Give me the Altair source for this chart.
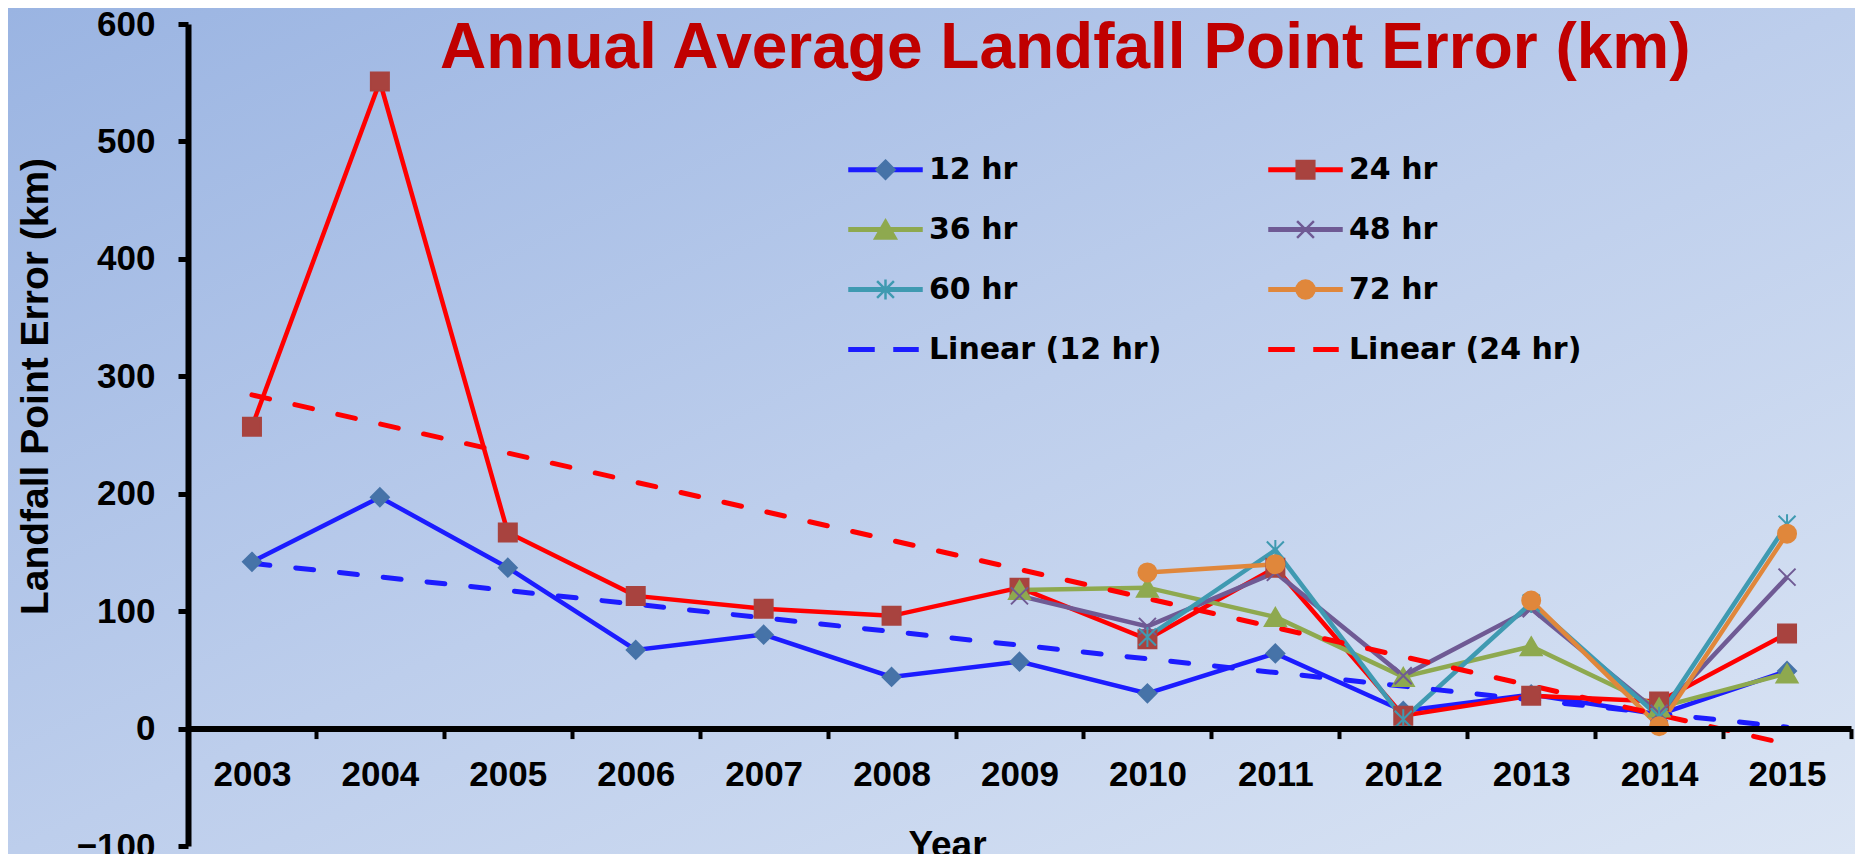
import altair as alt
import pandas as pd

# ---------------- data ----------------
years = [str(y) for y in range(2003, 2016)]
series = ["12 hr", "24 hr", "36 hr", "48 hr", "60 hr", "72 hr"]
h12 = [142, 197, 137, 67, 80, 44, 57, 30, 64, 15, 29, 12, 49]
h24 = [257, 551, 167, 113, 102, 96, 120, 76, 137, 11, 28, 23, 81]
h36 = [None, None, None, None, None, None, 118, 120, 95, 44, 70, 18, 47]
h48 = [None, None, None, None, None, None, 113, 87, 133, 45, 102, 13, 129]
h60 = [None, None, None, None, None, None, None, 78, 152, 8, 107, 10, 174]
h72 = [None, None, None, None, None, None, None, 133, 140, None, 109, 2, 166]
trend_names = ["Linear (12 hr)", "Linear (24 hr)"]
y_ticks = [-100, 0, 100, 200, 300, 400, 500, 600]

# ---------------- styling ----------------
line_colors = ["#1C1CFF", "#FF0000", "#8EA94F", "#6F5A94", "#3F9AB1", "#E0873B"]
marker_fill = ["#4673A8", "#A8433F", "#8EA94F", "transparent", "transparent", "#E0873B"]
marker_stroke = ["#4673A8", "#A8433F", "#8EA94F", "#6F5A94", "#3F9AB1", "#E0873B"]
trend_colors = ["#1C1CFF", "#FF0000"]

chart_paths = [
    "M0,-0.9L0.9,0L0,0.9L-0.9,0Z",
    "M-0.9,-0.9H0.9V0.9H-0.9Z",
    "M0,-0.9L1.05,0.9H-1.05Z",
    "M-0.85,-0.85L0.85,0.85M-0.85,0.85L0.85,-0.85",
    "M-0.85,-0.85L0.85,0.85M-0.85,0.85L0.85,-0.85M0,-1V1",
    "M-0.9,0A0.9,0.9 0 1,0 0.9,0A0.9,0.9 0 1,0 -0.9,0Z",
]
# legend symbols: invisible zero-length ends keep both legends' bounds identical
ends_solid = "M-1.8,0L-1.8,0M1.8,0L1.8,0"
ends_dash = "M-1.8,0L-1.8,0M1.6,0L1.6,0"
leg_marker_paths = [
    ends_solid + "M0,-0.45L0.45,0L0,0.45L-0.45,0Z",
    ends_solid + "M-0.44,-0.44H0.44V0.44H-0.44Z",
    ends_solid + "M0,-0.45L0.52,0.45H-0.52Z",
    ends_solid + "M-0.42,-0.42L0.42,0.42M-0.42,0.42L0.42,-0.42",
    ends_solid + "M-0.42,-0.42L0.42,0.42M-0.42,0.42L0.42,-0.42M0,-0.5V0.5",
    ends_solid + "M-0.45,0A0.45,0.45 0 1,0 0.45,0A0.45,0.45 0 1,0 -0.45,0Z",
    ends_dash,
    ends_dash,
]
solid = "M-1.8,-0.06H1.8V0.06H-1.8Z"
dashed = "M-1.8,-0.06H-0.6V0.06H-1.8ZM0.45,-0.06H1.6V0.06H0.45Z"
leg_line_paths = [solid] * 6 + [dashed] * 2
leg_line_colors = line_colors + trend_colors
leg_marker_fill = marker_fill + ["transparent", "transparent"]
leg_marker_stroke = marker_stroke + ["transparent", "transparent"]

# ---------------- tables ----------------
rows = []
for name, vals in zip(series, [h12, h24, h36, h48, h60, h72]):
    idx = [i for i, v in enumerate(vals) if v is not None]
    for i in range(idx[0], idx[-1] + 1):
        rows.append({"series": name, "year": years[i], "yr": int(years[i]), "value": vals[i]})
df = pd.DataFrame(rows)

legend_names = series + trend_names
leg_df = pd.DataFrame({"ll": legend_names, "lm": legend_names,
                       "year": [years[0]] * len(legend_names), "value": [0] * len(legend_names)})

W, H = 1663, 822
FONT = "Liberation Sans"

xscale = alt.Scale(type="band", domain=years, paddingInner=0, paddingOuter=0)
yscale = alt.Scale(domain=[-100, 600], nice=False, zero=False)

xaxis = alt.Axis(title="Year", offset=-H / 7.0, domainWidth=6, domainColor="black",
                 tickBand="extent", tickSize=10, tickWidth=4, tickColor="black",
                 labelFont=FONT, labelFontSize=35, labelFontWeight="bold", labelColor="black",
                 labelPadding=19, labelAngle=0, grid=False, zindex=2,
                 titleFont=FONT, titleFontSize=37, titleFontWeight="bold", titleColor="black",
                 titleX=759, titleY=128, titleBaseline="alphabetic")
yaxis = alt.Axis(title="Landfall Point Error (km)", values=y_ticks, domainWidth=6, domainColor="black",
                 tickSize=10, tickWidth=5, tickColor="black", grid=False, zindex=2,
                 labelFont=FONT, labelFontSize=35, labelFontWeight="bold", labelColor="black",
                 labelPadding=23,
                 titleFont=FONT, titleFontSize=39, titleFontWeight="bold", titleColor="black",
                 titleAngle=270, titleX=-141, titleY=362, titleBaseline="alphabetic",
                 titleAlign="center")

X = alt.X("year:O", scale=xscale, axis=xaxis)
Y = alt.Y("value:Q", scale=yscale, axis=yaxis)

gradient = alt.LinearGradient(
    gradient="linear",
    stops=[alt.GradientStop(color="#9AB4E2", offset=0),
           alt.GradientStop(color="#BDCEEC", offset=0.5),
           alt.GradientStop(color="#DBE5F4", offset=1)],
    x1=0, y1=0, x2=1, y2=1)

bg = alt.Chart(pd.DataFrame({"k": [0]})).mark_rect(fill=gradient).encode(
    x=alt.value(-180), x2=alt.value(W + 4), y=alt.value(-16), y2=alt.value(H + 8))

lines = alt.Chart(df).mark_line(strokeWidth=4.5, invalid="break-paths-filter-domains").encode(
    x=X, y=Y,
    stroke=alt.Stroke("series:N", scale=alt.Scale(domain=series, range=line_colors), legend=None))

trend = alt.Chart(df).transform_filter(
    alt.FieldOneOfPredicate(field="series", oneOf=["12 hr", "24 hr"])
).transform_regression("yr", "value", groupby=["series"]).transform_calculate(
    year="toString(datum.yr)", trend="'Linear (' + datum.series + ')'"
).mark_line(strokeWidth=5, strokeDash=[18, 26], strokeCap="round").encode(
    x=alt.X("year:O", scale=xscale),
    y=alt.Y("value:Q", scale=yscale),
    stroke=alt.Stroke("trend:N", scale=alt.Scale(domain=trend_names, range=trend_colors), legend=None))

points = alt.Chart(df).mark_point(filled=True, opacity=1, size=400, strokeWidth=2).encode(
    x=alt.X("year:O", scale=xscale),
    y=alt.Y("value:Q", scale=yscale),
    shape=alt.Shape("series:N", scale=alt.Scale(domain=series, range=chart_paths), legend=None),
    fill=alt.Fill("series:N", scale=alt.Scale(domain=series, range=marker_fill), legend=None),
    stroke=alt.Stroke("series:N", scale=alt.Scale(domain=series, range=marker_stroke), legend=None))


def make_legend(label_color):
    return alt.Legend(title=None, orient="none", legendX=676, legendY=124, columns=2,
                      direction="horizontal",
                      columnPadding=102, rowPadding=23, symbolSize=1600, symbolStrokeWidth=2.5,
                      symbolOpacity=1, labelFont="DejaVu Sans", labelFontSize=30,
                      labelFontWeight="bold", labelColor=label_color, labelOffset=22,
                      labelLimit=500, padding=0, zindex=3)


legA = make_legend("transparent")
legB = make_legend("black")

leg_lines = alt.Chart(leg_df).mark_point(filled=True, opacity=0).encode(
    x=alt.X("year:O", scale=xscale),
    y=alt.Y("value:Q", scale=yscale),
    shape=alt.Shape("ll:N", scale=alt.Scale(domain=legend_names, range=leg_line_paths), legend=legA),
    fill=alt.Fill("ll:N", scale=alt.Scale(domain=legend_names, range=leg_line_colors), legend=legA),
    stroke=alt.Stroke("ll:N", scale=alt.Scale(domain=legend_names, range=leg_line_colors), legend=legA))

leg_marks = alt.Chart(leg_df).mark_point(filled=True, opacity=0).encode(
    x=alt.X("year:O", scale=xscale),
    y=alt.Y("value:Q", scale=yscale),
    shape=alt.Shape("lm:N", scale=alt.Scale(domain=legend_names, range=leg_marker_paths), legend=legB),
    fill=alt.Fill("lm:N", scale=alt.Scale(domain=legend_names, range=leg_marker_fill), legend=legB),
    stroke=alt.Stroke("lm:N", scale=alt.Scale(domain=legend_names, range=leg_marker_stroke), legend=legB))

chart = alt.layer(bg, lines, trend, points, leg_lines, leg_marks).resolve_scale(
    stroke="independent", fill="independent", shape="independent"
).resolve_legend(
    stroke="independent", fill="independent", shape="independent"
).properties(
    width=W, height=H,
    padding={"left": 180, "top": 16, "right": 4, "bottom": 8},
    autosize=alt.AutoSizeParams(type="none"),
    title=alt.TitleParams(text="Annual Average Landfall Point Error (km)", anchor="start",
                          frame="group", dx=252, dy=125, offset=0, baseline="alphabetic",
                          font=FONT, fontSize=64, fontWeight="bold", color="#C00000", zindex=3),
).configure_view(stroke=None).configure(background="#BCCDEC")

chart.save("out.html", embed_options={"renderer": "svg", "actions": False})
